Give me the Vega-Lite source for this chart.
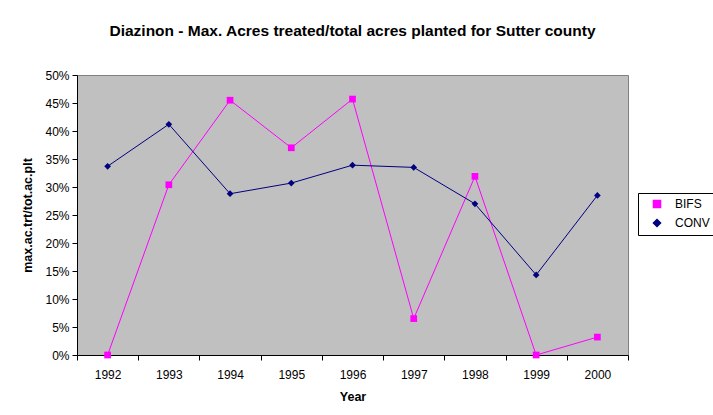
{
  "$schema": "https://vega.github.io/schema/vega-lite/v6.json",
  "autosize": {"type": "none"},
  "padding": {"left": 77, "top": 75, "right": 85, "bottom": 60},
  "width": 551,
  "height": 280,
  "background": "white",
  "title": {
    "text": "Diazinon - Max. Acres treated/total acres planted for Sutter county",
    "font": "Liberation Sans",
    "fontSize": 15.5,
    "fontWeight": "bold",
    "color": "black",
    "anchor": "middle",
    "offset": 30
  },
  "config": {
    "view": {"fill": "#C0C0C0", "stroke": "#808080", "strokeWidth": 1},
    "font": "Liberation Sans",
    "axis": {
      "labelFont": "Liberation Sans",
      "labelFontSize": 12,
      "labelColor": "black",
      "titleFont": "Liberation Sans",
      "titleFontSize": 12.5,
      "titleFontWeight": "bold",
      "titleColor": "black",
      "domainColor": "black",
      "tickColor": "black",
      "grid": false
    }
  },
  "data": {
    "values": [
      {"Year": "1992", "series": "BIFS", "value": 0.0},
      {"Year": "1993", "series": "BIFS", "value": 0.304},
      {"Year": "1994", "series": "BIFS", "value": 0.455},
      {"Year": "1995", "series": "BIFS", "value": 0.37},
      {"Year": "1996", "series": "BIFS", "value": 0.457},
      {"Year": "1997", "series": "BIFS", "value": 0.065},
      {"Year": "1998", "series": "BIFS", "value": 0.319},
      {"Year": "1999", "series": "BIFS", "value": 0.0},
      {"Year": "2000", "series": "BIFS", "value": 0.032},
      {"Year": "1992", "series": "CONV", "value": 0.337},
      {"Year": "1993", "series": "CONV", "value": 0.412},
      {"Year": "1994", "series": "CONV", "value": 0.288},
      {"Year": "1995", "series": "CONV", "value": 0.307},
      {"Year": "1996", "series": "CONV", "value": 0.339},
      {"Year": "1997", "series": "CONV", "value": 0.335},
      {"Year": "1998", "series": "CONV", "value": 0.27},
      {"Year": "1999", "series": "CONV", "value": 0.143},
      {"Year": "2000", "series": "CONV", "value": 0.285}
    ]
  },
  "mark": {"type": "line", "strokeWidth": 1, "point": {"filled": true, "size": 45}},
  "encoding": {
    "x": {
      "field": "Year",
      "type": "ordinal",
      "scale": {"type": "band", "paddingInner": 0, "paddingOuter": 0},
      "axis": {
        "title": "Year",
        "labelAngle": 0,
        "tickBand": "extent",
        "tickSize": 5,
        "labelPadding": 9,
        "titlePadding": 10,
        "domain": true
      }
    },
    "y": {
      "field": "value",
      "type": "quantitative",
      "scale": {"domain": [0, 0.5], "nice": false},
      "axis": {
        "title": "max.ac.trt/tot.ac.plt",
        "format": ".0%",
        "values": [0, 0.05, 0.1, 0.15, 0.2, 0.25, 0.3, 0.35, 0.4, 0.45, 0.5],
        "tickSize": 5,
        "labelPadding": 3,
        "titlePadding": 10
      }
    },
    "color": {
      "field": "series",
      "type": "nominal",
      "scale": {"domain": ["BIFS", "CONV"], "range": ["#FF00FF", "#000080"]},
      "legend": {
        "title": null,
        "orient": "none",
        "legendX": 561,
        "legendY": 118,
        "strokeColor": "black",
        "fillColor": "white",
        "padding": 5,
        "labelFont": "Liberation Sans",
        "labelFontSize": 12,
        "labelColor": "black",
        "symbolSize": 50,
        "symbolOffset": 8,
        "labelOffset": 12,
        "rowPadding": 5
      }
    },
    "shape": {
      "field": "series",
      "type": "nominal",
      "scale": {"domain": ["BIFS", "CONV"], "range": ["square", "diamond"]},
      "legend": {
        "title": null,
        "orient": "none",
        "legendX": 561,
        "legendY": 118,
        "strokeColor": "black",
        "fillColor": "white",
        "padding": 5,
        "labelFont": "Liberation Sans",
        "labelFontSize": 12,
        "labelColor": "black",
        "symbolSize": 50,
        "symbolOffset": 8,
        "labelOffset": 12,
        "rowPadding": 5
      }
    }
  }
}
